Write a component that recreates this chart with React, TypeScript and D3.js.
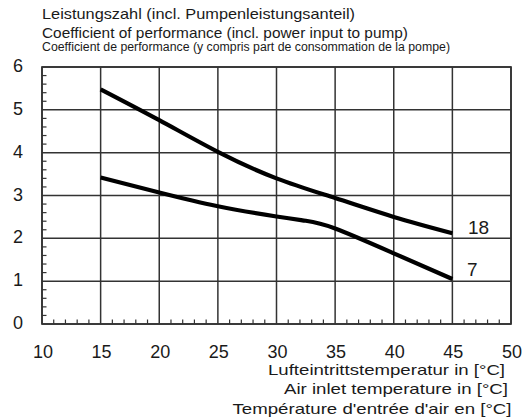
import React from "react";
import * as d3 from "d3";

const xTicks = [10, 15, 20, 25, 30, 35, 40, 45, 50];
const yTicks = [0, 1, 2, 3, 4, 5, 6];

const temps18 = [15, 20, 25, 30, 35, 40, 45];
const cop18 = [5.48, 4.76, 4.02, 3.4, 2.94, 2.5, 2.12];

const temps7 = [15, 20, 25, 30, 32.5, 35, 40, 45];
const cop7 = [3.42, 3.07, 2.75, 2.51, 2.41, 2.23, 1.65, 1.05];

const seriesLabels = ["18", "7"];

const titleLines = [
  "Leistungszahl (incl. Pumpenleistungsanteil)",
  "Coefficient of performance (incl. power input to pump)",
  "Coefficient de performance (y compris part de consommation de la pompe)",
];

const xTitleLines = [
  "Lufteintrittstemperatur in [°C]",
  "Air inlet temperature in [°C]",
  "Température d'entrée d'air en [°C]",
];

const FONT = "'Liberation Sans', Arial, Helvetica, sans-serif";

export default function App() {
  const W = 523;
  const H = 420;
  const x = d3.scaleLinear().domain([10, 50]).range([42, 511]);
  const y = d3.scaleLinear().domain([0, 6]).range([324, 67]);

  const line = d3
    .line<[number, number]>()
    .x((d) => x(d[0]))
    .y((d) => y(d[1]))
    .curve(d3.curveNatural);

  const s18 = temps18.map((t, i) => [t, cop18[i]] as [number, number]);
  const s7 = temps7.map((t, i) => [t, cop7[i]] as [number, number]);

  const xMinor = d3.range(10, 50.001, 1).filter((v) => v % 5 !== 0);
  const yMinor = d3.range(0, 6.001, 0.2).filter((v) => Math.abs(v - Math.round(v)) > 0.01);

  const gridColor = "#333";
  const textColor = "#1a1a1a";

  const titleStyle = [
    { size: 15, base: 18.5, len: 313 },
    { size: 15, base: 37.5, len: 366 },
    { size: 12.5, base: 51, len: 408 },
  ];
  const xTitleStyle = [
    { base: 375, right: 505, len: 237 },
    { base: 393.5, right: 508, len: 224 },
    { base: 414, right: 511.5, len: 279 },
  ];

  return (
    <div style={{ position: "absolute", left: 0, top: 0 }}>
      <svg width={W} height={H} style={{ display: "block", background: "#fff" }}>
        <rect x={0} y={0} width={W} height={H} fill="#fff" />
        {xTicks.map((v) => (
          <line key={"gx" + v} x1={x(v)} x2={x(v)} y1={y(0)} y2={y(6)} stroke={gridColor} strokeWidth={1.5} />
        ))}
        {yTicks.map((v) => (
          <line key={"gy" + v} x1={x(10)} x2={x(50)} y1={y(v)} y2={y(v)} stroke={gridColor} strokeWidth={1.5} />
        ))}
        {xMinor.map((v) => (
          <line key={"mx" + v} x1={x(v)} x2={x(v)} y1={y(0)} y2={y(0) - 4.5} stroke={gridColor} strokeWidth={1.2} />
        ))}
        {yMinor.map((v) => (
          <line key={"my" + v} x1={x(10)} x2={x(10) + 4.5} y1={y(v)} y2={y(v)} stroke={gridColor} strokeWidth={1.2} />
        ))}
        <rect x={x(10)} y={y(6)} width={x(50) - x(10)} height={y(0) - y(6)} fill="none" stroke={gridColor} strokeWidth={1.7} />
        <path d={line(s18) || ""} fill="none" stroke="#000" strokeWidth={4.2} />
        <path d={line(s7) || ""} fill="none" stroke="#000" strokeWidth={4.2} />
        <text x={468} y={234} fontFamily={FONT} fontSize={19} fill={textColor}>
          {seriesLabels[0]}
        </text>
        <text x={467} y={276} fontFamily={FONT} fontSize={19} fill={textColor}>
          {seriesLabels[1]}
        </text>
        {yTicks.map((v) => (
          <text key={"ty" + v} x={18} y={y(v) + 5} textAnchor="middle" fontFamily={FONT} fontSize={18} fill={textColor}>
            {v}
          </text>
        ))}
        {xTicks.map((v) => (
          <text key={"tx" + v} x={x(v) + 1} y={357.5} textAnchor="middle" fontFamily={FONT} fontSize={18} fill={textColor}>
            {v}
          </text>
        ))}
        {titleLines.map((t, i) => (
          <text
            key={"t" + i}
            x={42}
            y={titleStyle[i].base}
            fontFamily={FONT}
            fontSize={titleStyle[i].size}
            fill={textColor}
            textLength={titleStyle[i].len}
            lengthAdjust="spacingAndGlyphs"
          >
            {t}
          </text>
        ))}
        {xTitleLines.map((t, i) => (
          <text
            key={"xt" + i}
            x={xTitleStyle[i].right - xTitleStyle[i].len}
            y={xTitleStyle[i].base}
            fontFamily={FONT}
            fontSize={15}
            fill={textColor}
            textLength={xTitleStyle[i].len}
            lengthAdjust="spacingAndGlyphs"
          >
            {t}
          </text>
        ))}
      </svg>
    </div>
  );
}
